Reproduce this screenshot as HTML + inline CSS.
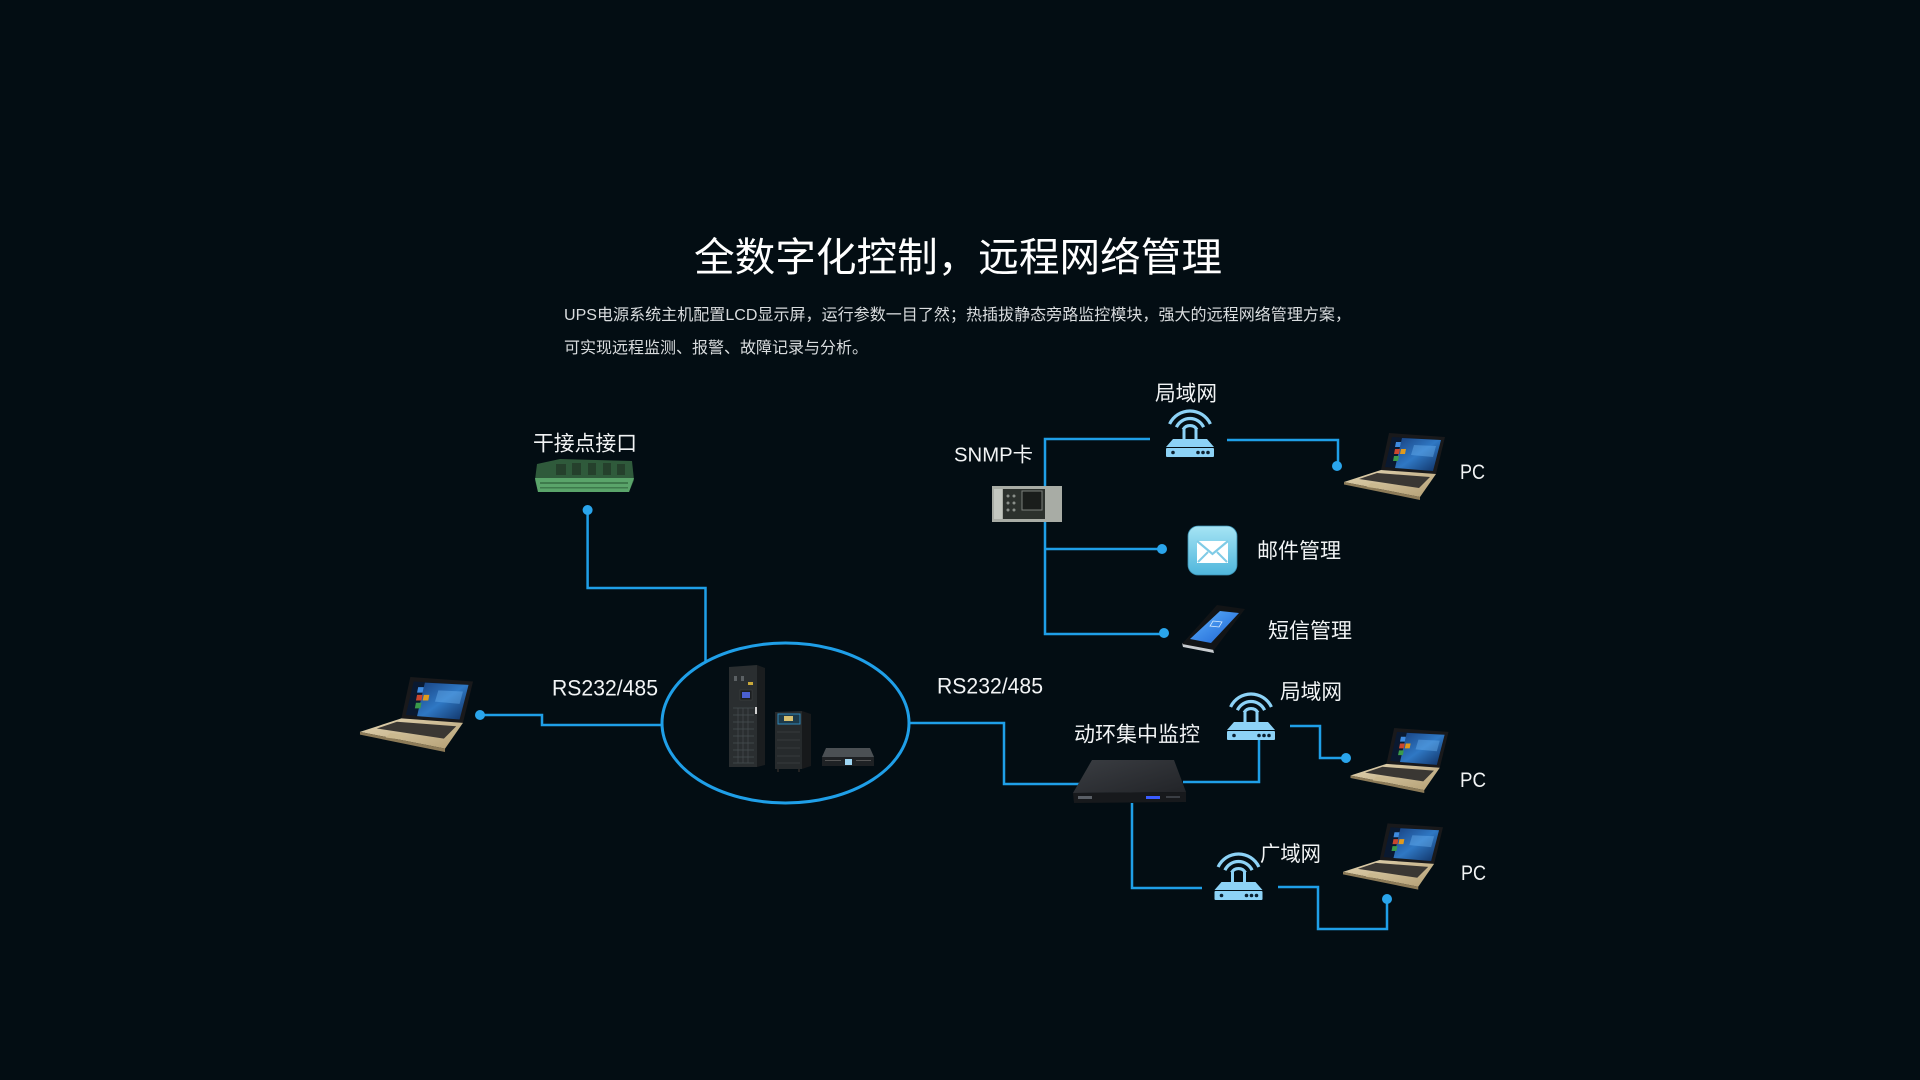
<!DOCTYPE html>
<html>
<head>
<meta charset="utf-8">
<style>
  html,body{margin:0;padding:0;background:#030d13;}
  body{width:1920px;height:1080px;overflow:hidden;}
  svg{display:block;}
  text{font-family:"Liberation Sans","Noto Sans CJK SC",sans-serif;}
</style>
</head>
<body>
<svg width="1920" height="1080" viewBox="0 0 1920 1080" xmlns="http://www.w3.org/2000/svg">
  <defs>
    <linearGradient id="wall" x1="0" y1="0" x2="1" y2="1">
      <stop offset="0" stop-color="#173f7e"/>
      <stop offset="0.5" stop-color="#2f78c4"/>
      <stop offset="1" stop-color="#0e2d5e"/>
    </linearGradient>
    <linearGradient id="gold" x1="0" y1="0" x2="1" y2="1">
      <stop offset="0" stop-color="#e2d4b2"/>
      <stop offset="1" stop-color="#b49f74"/>
    </linearGradient>
    <linearGradient id="mail" x1="0" y1="0" x2="0" y2="1">
      <stop offset="0" stop-color="#a6e4f4"/>
      <stop offset="1" stop-color="#4fb6dc"/>
    </linearGradient>
    <linearGradient id="devtop" x1="0" y1="0" x2="1" y2="1">
      <stop offset="0" stop-color="#3a3d42"/>
      <stop offset="1" stop-color="#222428"/>
    </linearGradient>
    <linearGradient id="phscr" x1="0" y1="0" x2="1" y2="1">
      <stop offset="0" stop-color="#5fb4ff"/>
      <stop offset="1" stop-color="#1a5fd0"/>
    </linearGradient>

    <symbol id="laptop" viewBox="0 0 101 67" overflow="visible">
      <polygon points="45,0 101,4 92,41 37,37" fill="#19191b"/>
      <polygon points="48,4 97,7 89,38 41,34" fill="#0a1930"/>
      <polygon points="58,5 97,7 89,38 51,35" fill="url(#wall)"/>
      <polygon points="70,12 92,13 89,24 67,22" fill="#6fb6f4" opacity="0.4"/>
      <polygon points="52,9 57,9 56,14 51,14" fill="#3f8be0"/>
      <polygon points="51,16 56,16 55,21 50,21" fill="#c9462e"/>
      <polygon points="50,23 55,23 54,28 49,28" fill="#3a9a4a"/>
      <polygon points="57,16 62,16 61,21 56,21" fill="#e09a1d"/>
      <polygon points="37,37 92,41 76,64 0,49" fill="url(#gold)"/>
      <polygon points="0,49 76,64 76,67 0,51.5" fill="#8d7b58"/>
      <polygon points="33,40 86,44 75,55 15,46" fill="#3a3733"/>
      <polygon points="27,50 41,52 37,56 23,54" fill="#cbb98f"/>
    </symbol>

    <g id="router" fill="#8dd2f6">
      <path d="M -20.4 -15 A 22.5 22.5 0 0 1 20.4 -15" fill="none" stroke="#8dd2f6" stroke-width="3.2"/>
      <path d="M -13.6 -11.8 A 15 15 0 0 1 13.6 -11.8" fill="none" stroke="#8dd2f6" stroke-width="3.2"/>
      <path d="M -6.9 -9.5 A 8 8 0 0 1 6.9 -9.5" fill="none" stroke="#8dd2f6" stroke-width="3.2"/>
      <rect x="-7.5" y="-11" width="3" height="11"/>
      <rect x="4.5" y="-11" width="3" height="11"/>
      <polygon points="-17,0 17,0 24,8 -24,8"/>
      <rect x="-24" y="9" width="48" height="9" rx="1"/>
      <circle cx="-17" cy="13.5" r="1.8" fill="#0b2030"/>
      <circle cx="8" cy="13.5" r="1.8" fill="#0b2030"/>
      <circle cx="13" cy="13.5" r="1.8" fill="#0b2030"/>
      <circle cx="18" cy="13.5" r="1.8" fill="#0b2030"/>
    </g>
  </defs>

  <rect width="1920" height="1080" fill="#030d13"/>

  <!-- Title -->
  <text x="958" y="271" font-size="40" fill="#ffffff" text-anchor="middle" textLength="528" lengthAdjust="spacingAndGlyphs">全数字化控制，远程网络管理</text>
  <text x="564" y="320" font-size="16" fill="#d9dcde" textLength="787" lengthAdjust="spacingAndGlyphs">UPS电源系统主机配置LCD显示屏，运行参数一目了然；热插拔静态旁路监控模块，强大的远程网络管理方案，</text>
  <text x="564" y="353" font-size="16" fill="#d9dcde">可实现远程监测、报警、故障记录与分析。</text>

  <!-- Connectors -->
  <g fill="none" stroke="#1f9fe8" stroke-width="2.5">
    <path d="M587.6 510 V588 H705.5 V663"/>
    <path d="M480 715 H542 V725 H663"/>
    <path d="M909 723 H1004 V784 H1080"/>
    <path d="M1150 439 H1045 V634 H1164"/>
    <path d="M1045 549 H1162"/>
    <path d="M1227 440 H1338 V466"/>
    <path d="M1183 782 H1259 V739"/>
    <path d="M1290 726 H1320 V758 H1346"/>
    <path d="M1132 803 V888 H1202"/>
    <path d="M1278 887 H1318 V929 H1387 V899"/>
  </g>
  <ellipse cx="785.5" cy="723" rx="123.5" ry="80" fill="none" stroke="#1f9fe8" stroke-width="3"/>
  <g fill="#2aa5ec">
    <circle cx="587.6" cy="510" r="5"/>
    <circle cx="480" cy="715" r="5"/>
    <circle cx="1162" cy="549" r="5"/>
    <circle cx="1164" cy="633" r="5"/>
    <circle cx="1337" cy="466" r="5"/>
    <circle cx="1346" cy="758" r="5"/>
    <circle cx="1387" cy="899" r="5"/>
  </g>

  <!-- Dry contact board -->
  <polygon points="537,464 560,459 632,461 634,480 629,492 538,492 535,480" fill="#2f5a3b"/>
  <polygon points="535,478 634,478 629,492 538,492" fill="#5aa46a"/>
  <g fill="#25402c">
    <rect x="556" y="464" width="10" height="11"/>
    <rect x="572" y="463" width="9" height="12"/>
    <rect x="588" y="463" width="8" height="12"/>
    <rect x="603" y="463" width="8" height="12"/>
    <rect x="617" y="464" width="8" height="11"/>
  </g>
  <g fill="#3e7a4c">
    <rect x="540" y="482" width="88" height="2"/>
    <rect x="540" y="487" width="88" height="1.5"/>
  </g>

  <!-- UPS cabinets -->
  <polygon points="729,667 757,665 757,767 729,767" fill="#2a2e30"/>
  <polygon points="757,665 765,668 765,765 757,767" fill="#1a1d1f"/>
  <rect x="734" y="676" width="3" height="5" fill="#5b6063"/>
  <rect x="741" y="676" width="3" height="5" fill="#5b6063"/>
  <rect x="748" y="682" width="5" height="3" fill="#c9a83a"/>
  <rect x="740" y="690" width="12" height="10" fill="#1b1e20" stroke="#444" stroke-width="0.5"/>
  <rect x="742" y="692" width="8" height="6" fill="#4a5fd0"/>
  <g stroke="#474d50" stroke-width="0.7" fill="none">
    <path d="M733 708 H754 M733 715 H754 M733 722 H754 M733 729 H754 M733 736 H754 M733 743 H754 M733 750 H754 M733 757 H754 M733 763 H754"/>
    <path d="M738 708 V763 M743 708 V763 M748 708 V763"/>
  </g>
  <rect x="755" y="707" width="2" height="7" fill="#d0d0d0"/>

  <polygon points="775,712 802,711 802,769 775,769" fill="#262a2c"/>
  <polygon points="802,711 811,714 811,766 802,769" fill="#17191b"/>
  <rect x="778" y="714" width="22" height="10" fill="#1d3a4a" stroke="#2e86b8" stroke-width="1"/>
  <rect x="784" y="716" width="9" height="5" fill="#d7c070"/>
  <g stroke="#3b4043" stroke-width="0.7">
    <path d="M777 732 H800 M777 740 H800 M777 748 H800 M777 756 H800 M777 763 H800"/>
  </g>
  <rect x="777" y="769" width="2" height="3" fill="#222"/>
  <rect x="798" y="769" width="2" height="3" fill="#222"/>

  <polygon points="826,748 870,748 874,757 822,757" fill="#4b5054"/>
  <polygon points="822,757 874,757 874,766 822,766" fill="#1e2124"/>
  <rect x="845" y="759" width="7" height="6" fill="#9fd6f3"/>
  <rect x="825" y="760" width="16" height="1" fill="#555"/>
  <rect x="856" y="760" width="15" height="1" fill="#555"/>

  <!-- Left laptop -->
  <use href="#laptop" x="359" y="677" width="115" height="75"/>

  <!-- SNMP card -->
  <rect x="992" y="486" width="70" height="36" fill="#a8aca5"/>
  <rect x="994" y="489" width="8" height="30" fill="#c3c7c0"/>
  <rect x="1003" y="489" width="42" height="30" fill="#2c312d"/>
  <rect x="1022" y="491" width="20" height="19" fill="#1a1d1b" stroke="#7a7f7a" stroke-width="1"/>
  <g fill="#8a8f8a">
    <circle cx="1008" cy="496" r="1.5"/><circle cx="1014" cy="496" r="1.5"/>
    <circle cx="1008" cy="503" r="1.5"/><circle cx="1014" cy="503" r="1.5"/>
    <circle cx="1008" cy="510" r="1.5"/><circle cx="1014" cy="510" r="1.5"/>
  </g>

  <!-- Routers -->
  <use href="#router" transform="translate(1190,439)"/>
  <use href="#router" transform="translate(1251,722)"/>
  <use href="#router" transform="translate(1238.5,882)"/>

  <!-- Laptops right -->
  <use href="#laptop" x="1344" y="433" width="101" height="67"/>
  <use href="#laptop" x="1349" y="728" width="101" height="65"/>
  <use href="#laptop" x="1343" y="823" width="100" height="67"/>

  <!-- Email icon -->
  <rect x="1188" y="526" width="49" height="49" rx="10" fill="url(#mail)" stroke="#3b8fb0" stroke-width="0.8"/>
  <rect x="1197" y="541" width="31" height="22" fill="#ffffff"/>
  <path d="M1197 541 L1212.5 554 L1228 541" fill="none" stroke="#7fcbe6" stroke-width="2.2"/>
  <path d="M1198 562 L1208 552 M1227 562 L1217 552" fill="none" stroke="#7fcbe6" stroke-width="2"/>

  <!-- Phone -->
  <polygon points="1182,643 1213,649 1214,653 1183,647" fill="#c8ccd0"/>
  <polygon points="1217,605 1245,609 1214,650 1182,644" fill="#121416"/>
  <polygon points="1220,611 1239,613 1211,643 1190,639" fill="url(#phscr)"/>
  <polygon points="1213,621 1222,622 1219,627 1210,626" fill="none" stroke="#d8ecff" stroke-width="0.8"/>

  <!-- Device 动环集中监控 -->
  <polygon points="1092,760 1174,760 1186,792 1073,793" fill="url(#devtop)"/>
  <polygon points="1073,793 1186,792 1186,802 1074,803" fill="#17191c"/>
  <rect x="1146" y="796" width="14" height="3" fill="#3a5cff"/>
  <rect x="1078" y="796" width="14" height="3" fill="#5a5f66"/>
  <rect x="1166" y="796" width="14" height="2" fill="#3a3e44"/>

  <!-- Labels -->
  <g fill="#f2f4f5" font-size="21">
    <text x="533" y="450.5" textLength="104" lengthAdjust="spacingAndGlyphs">干接点接口</text>
    <text x="552" y="695.5" font-size="22" textLength="106" lengthAdjust="spacingAndGlyphs">RS232/485</text>
    <text x="937" y="693.5" font-size="22" textLength="106" lengthAdjust="spacingAndGlyphs">RS232/485</text>
    <text x="954" y="461.5" font-size="20" textLength="79" lengthAdjust="spacingAndGlyphs">SNMP卡</text>
    <text x="1155" y="400.5" textLength="62" lengthAdjust="spacingAndGlyphs">局域网</text>
    <text x="1257" y="558" textLength="84" lengthAdjust="spacingAndGlyphs">邮件管理</text>
    <text x="1268" y="638" textLength="84" lengthAdjust="spacingAndGlyphs">短信管理</text>
    <text x="1074" y="741.5" textLength="126" lengthAdjust="spacingAndGlyphs">动环集中监控</text>
    <text x="1280" y="699" textLength="62" lengthAdjust="spacingAndGlyphs">局域网</text>
    <text x="1260" y="861" textLength="61" lengthAdjust="spacingAndGlyphs">广域网</text>
    <text x="1460" y="479" textLength="25" lengthAdjust="spacingAndGlyphs">PC</text>
    <text x="1460" y="787" textLength="26" lengthAdjust="spacingAndGlyphs">PC</text>
    <text x="1461" y="880" textLength="25" lengthAdjust="spacingAndGlyphs">PC</text>
  </g>
</svg>
</body>
</html>
